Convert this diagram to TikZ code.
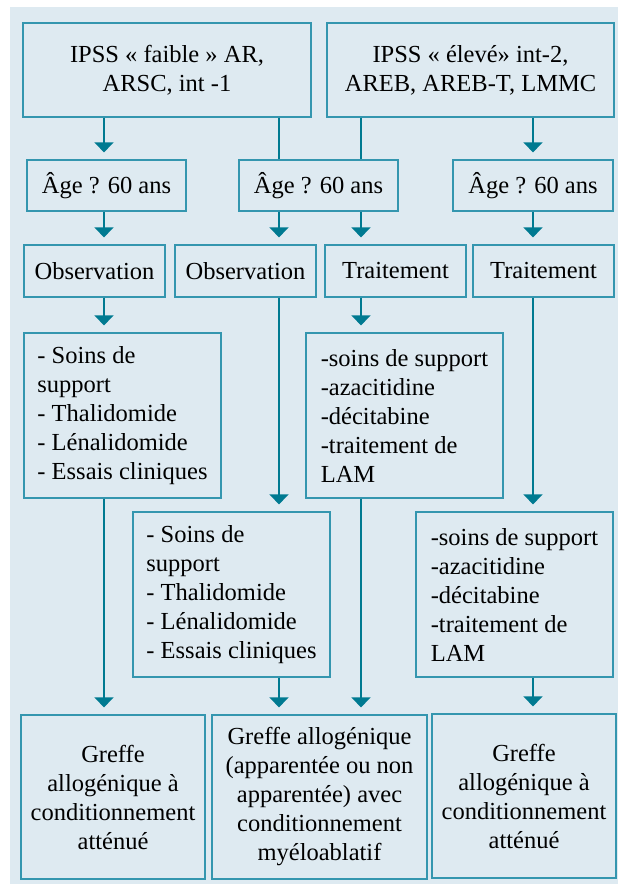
\documentclass[tikz,border=0pt]{standalone}
\usepackage{fontspec}
\setmainfont{Liberation Serif}
\usepackage{tikz}
\usetikzlibrary{arrows.meta}
\definecolor{panel}{RGB}{222,234,241}
\definecolor{frame}{RGB}{52,150,175}
\definecolor{flow}{RGB}{0,122,145}

\begin{document}
\begin{tikzpicture}[
			x=1pt,y=-1pt,
			box/.style={draw=frame,fill=panel,line width=1.2pt,inner sep=0pt,align=center,
				font=\fontsize{24.5}{29}\selectfont},
			list/.style={box,align=left,minimum width=197pt,minimum height=165pt},
			lnk/.style={draw=flow,line width=1.3pt},
			arr/.style={lnk,-{Triangle[width=19pt,length=10pt]},shorten >=7pt}]
			\useasboundingbox (0,0) rectangle (618,884);
			\fill[panel] (10,7) rectangle (618,884);
			% columns of the connectors
			\coordinate (c1) at (104,0);
			\coordinate (c2) at (279,0);
			\coordinate (c3) at (361,0);
			\coordinate (c4) at (533,0);
			\node[box,minimum width=288pt,minimum height=94pt] (ipssA) at (167,70) {IPSS « faible » AR,\\ARSC, int -1};
			\node[box,minimum width=287pt,minimum height=94pt] (ipssB) at (470.5,70) {IPSS « élevé» int-2,\\AREB, AREB-T, LMMC};
			\node[box,minimum width=159pt,minimum height=51pt] (age1) at (106.5,185.5) {Âge ? 60 ans};
			\node[box,minimum width=159pt,minimum height=51pt] (age2) at (318.5,185.5) {Âge ? 60 ans};
			\node[box,minimum width=160pt,minimum height=51pt] (age3) at (533,185.5) {Âge ? 60 ans};
			\node[box,minimum width=141pt,minimum height=52pt] (obs1) at (94.5,271) {Observation};
			\node[box,minimum width=141pt,minimum height=52pt] (obs2) at (245.5,271) {Observation};
			\node[box,minimum width=141pt,minimum height=52pt] (trt1) at (395.5,271) {Traitement};
			\node[box,minimum width=141pt,minimum height=52pt] (trt2) at (543.5,271) {Traitement};
			\node[list] (soins1) at (122.5,415.5) {- Soins de\\support\\- Thalidomide\\- Lénalidomide\\- Essais cliniques};
			\node[list] (med1) at (404.5,415.5) {-soins de support\\-azacitidine\\-décitabine\\-traitement de\\LAM};
			\node[list] (soins2) at (231.5,594.5) {- Soins de\\support\\- Thalidomide\\- Lénalidomide\\- Essais cliniques};
			\node[list] (med2) at (514.5,594.5) {-soins de support\\-azacitidine\\-décitabine\\-traitement de\\LAM};
			\node[box,minimum width=184pt,minimum height=164pt] (greffe1) at (113,797) {Greffe\\allogénique à\\conditionnement\\atténué};
			\node[box,minimum width=215pt,minimum height=164pt] (greffe2) at (319.5,797) {Greffe allogénique\\(apparentée ou non\\apparentée) avec\\conditionnement\\myéloablatif};
			\node[box,minimum width=184pt,minimum height=164pt] (greffe3) at (524,796) {Greffe\\allogénique à\\conditionnement\\atténué};
			\draw[arr] (ipssA.south -| c1) -- (age1.north -| c1);
			\draw[lnk] (ipssA.south -| c2) -- (age2.north -| c2);
			\draw[lnk] (ipssB.south -| c3) -- (age2.north -| c3);
			\draw[arr] (ipssB.south -| c4) -- (age3.north -| c4);
			\draw[arr] (age1.south -| c1) -- (obs1.north -| c1);
			\draw[arr] (age2.south -| c2) -- (obs2.north -| c2);
			\draw[arr] (age2.south -| c3) -- (trt1.north -| c3);
			\draw[arr] (age3.south -| c4) -- (trt2.north -| c4);
			\draw[arr] (obs1.south -| c1) -- (soins1.north -| c1);
			\draw[arr] (obs2.south -| c2) -- (soins2.north -| c2);
			\draw[arr] (trt1.south -| c3) -- (med1.north -| c3);
			\draw[arr] (trt2.south -| c4) -- (med2.north -| c4);
			\draw[arr] (soins1.south -| c1) -- (greffe1.north -| c1);
			\draw[arr] (soins2.south -| c2) -- (greffe2.north -| c2);
			\draw[arr] (med1.south -| c3) -- (greffe2.north -| c3);
			\draw[arr] (med2.south -| c4) -- (greffe3.north -| c4);
		\end{tikzpicture}
\end{document}
